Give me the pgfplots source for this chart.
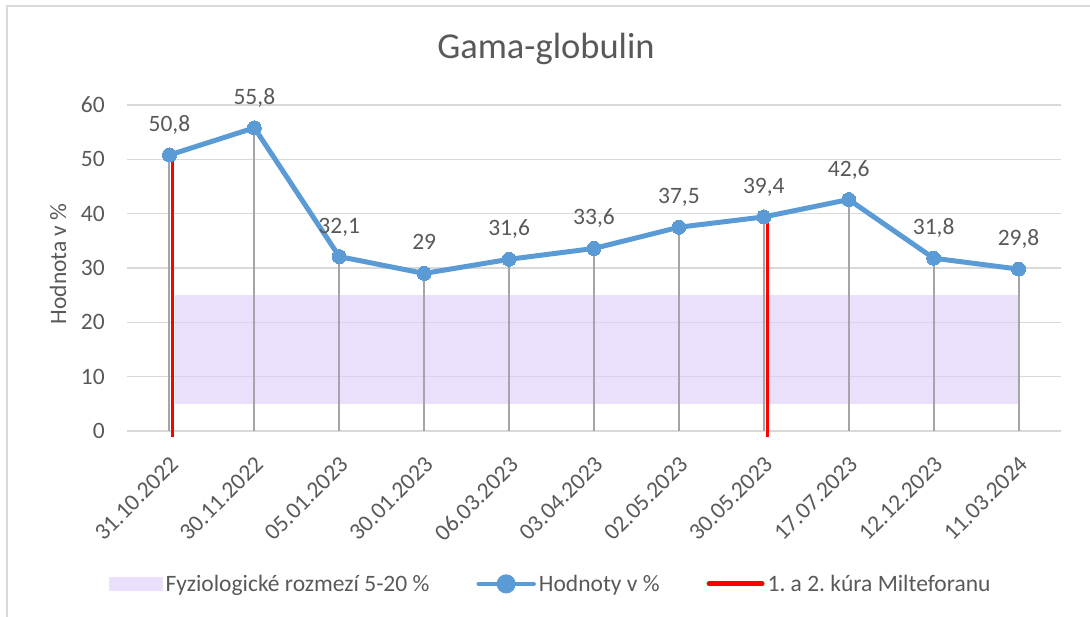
\documentclass[border=0pt]{standalone}
\usepackage{fontspec}
\setmainfont{Carlito}
\usepackage{pgfplots}
\pgfplotsset{compat=1.18}
\usepackage{pgfplotstable}
\frenchspacing

\definecolor{txt}{HTML}{595959}
\definecolor{gridc}{HTML}{D9D9D9}
\definecolor{blu}{HTML}{5B9BD5}
\definecolor{dropc}{HTML}{A5A5A5}
\definecolor{bandc}{RGB}{222,204,250}
\definecolor{redc}{HTML}{FF0000}

\pgfplotstableread{
x y lab
0 50.8 50,8
1 55.8 55,8
2 32.1 32,1
3 29.0 29
4 31.6 31,6
5 33.6 33,6
6 37.5 37,5
7 39.4 39,4
8 42.6 42,6
9 31.8 31,8
10 29.8 29,8
}\datatab

\newcommand{\fs}{\fontsize{23.5}{28}\selectfont}

\begin{document}
\begin{tikzpicture}[x=1pt,y=1pt]
\useasboundingbox (0,0) rectangle (1090,617);
\draw[gridc, line width=1.5pt] (7,0) -- (7,611) -- (1090,611);
\begin{axis}[
  at={(127pt,186pt)}, anchor=south west,
  scale only axis, width=934pt, height=326pt,
  xmin=-0.5, xmax=10.5, ymin=0, ymax=60,
  clip=false,
  axis line style={draw=none},
  major tick length=0pt,
  ymajorgrids, grid style={gridc, line width=1.5pt},
  xtick={0,...,10},
  xticklabels={31.10.2022,30.11.2022,05.01.2023,30.01.2023,06.03.2023,03.04.2023,02.05.2023,30.05.2023,17.07.2023,12.12.2023,11.03.2024},
  ytick={0,10,...,60},
  tick label style={font=\fs, text=txt},
  /pgf/number format/assume math mode=true,
  yticklabel style={anchor=east, inner sep=0pt, xshift=-22pt},
  xticklabel style={rotate=45, anchor=north east, inner sep=0pt, xshift=-17.5pt, yshift=-16.5pt},
  ylabel={Hodnota v \%},
  ylabel style={at={(axis description cs:-0.0739,0.513)}, anchor=center, font=\fs, text=txt},
  title={Gama-globulin},
  title style={at={(axis description cs:0.4486,1.125)}, anchor=base, font=\fontsize{36.5}{44}\selectfont, text=txt},
  legend columns=3,
  legend style={at={(axis description cs:0.454,-0.469)}, anchor=center, draw=none, fill=none,
    font=\fs, text=txt, nodes={inner sep=3pt},
    /tikz/every even column/.append style={column sep=44pt}},
]
\addplot[fill=bandc, draw=none, fill opacity=0.6,
  legend image code/.code={\fill[bandc] (-2pt,-7pt) rectangle (52pt,7pt);}]
  coordinates {(0.06,5) (10,5) (10,25) (0.06,25)} -- cycle;
\addlegendentry{Fyziologické rozmezí 5-20 \%}

\addplot[ycomb, dropc, line width=2pt, forget plot] table[x=x, y=y] {\datatab};

\addplot[redc, line width=3pt, unbounded coords=jump, forget plot]
  coordinates {(0.04,-1.1) (0.04,50.8) (nan,nan) (7.04,-1.1) (7.04,39.4)};

\addplot[blu, line width=5pt, mark=*, mark size=7pt, mark options={fill=blu, draw=blu, line width=0pt},
  point meta=explicit symbolic,
  nodes near coords,
  nodes near coords style={anchor=base, inner sep=0pt, yshift=23.5pt, font=\fs, text=txt},
  legend image code/.code={\draw[blu, line width=4.5pt, line cap=round] (0pt,0pt) -- (55pt,0pt); \fill[blu] (27.5pt,0pt) circle (7pt);}]
  table[x=x, y=y, meta=lab] {\datatab};
\addlegendentry{Hodnoty v \%}

\addlegendimage{legend image code/.code={\draw[redc, line width=5pt, line cap=round] (2pt,0pt) -- (55pt,0pt);}}
\addlegendentry{1. a 2. kúra Milteforanu}
\end{axis}
\end{tikzpicture}
\end{document}
